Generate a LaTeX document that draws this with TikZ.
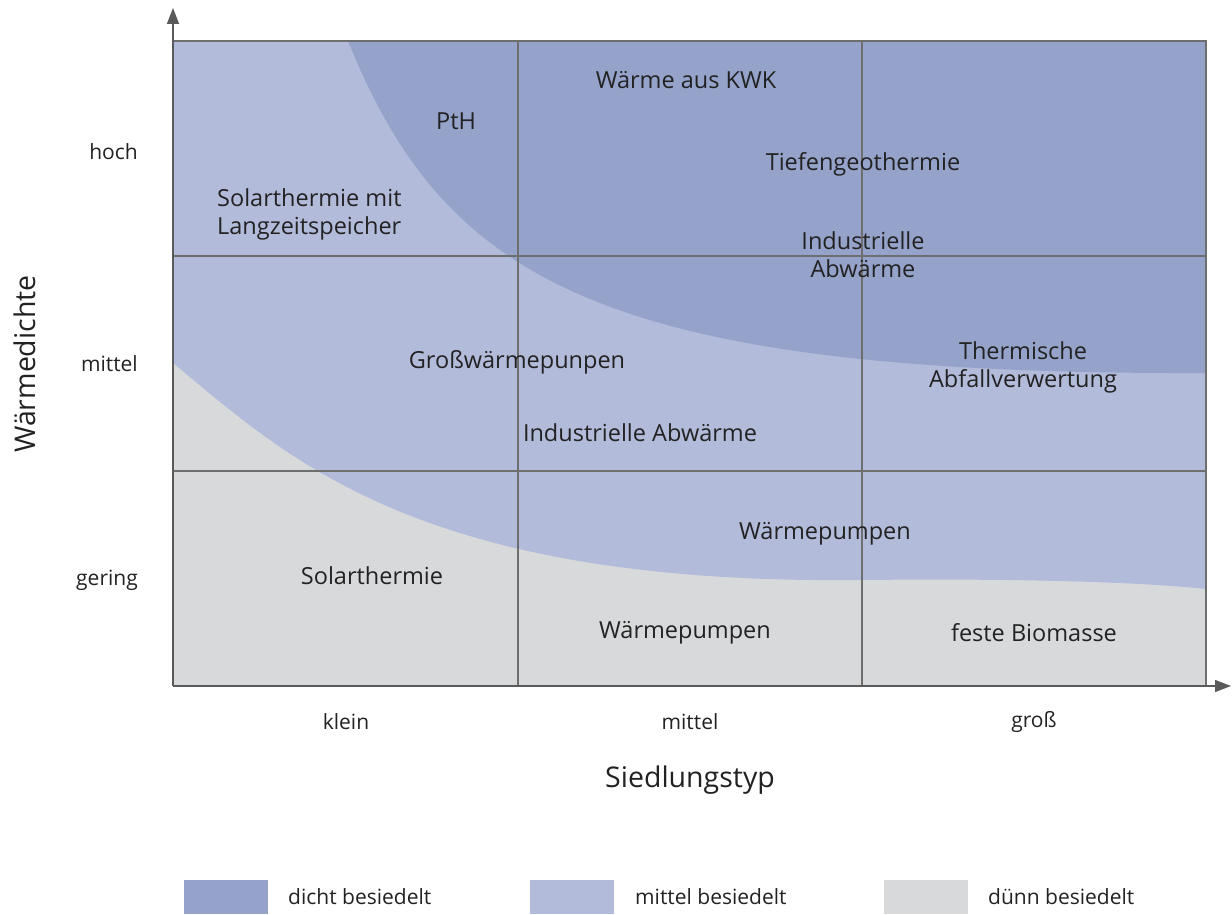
\documentclass[tikz,border=0pt]{standalone}
\usepackage{fontspec}
\setmainfont{Open Sans}
\usetikzlibrary{arrows.meta}
\definecolor{dense}{HTML}{95A3CB}
\definecolor{midd}{HTML}{B3BBDA}
\definecolor{sparse}{HTML}{D8D9DB}
\definecolor{gridc}{HTML}{6E6E6E}
\definecolor{axisc}{HTML}{5A5A5A}
\definecolor{txt}{HTML}{222222}
\begin{document}
\begin{tikzpicture}[x=1pt,y=-1pt,
  lbl/.style={font=\fontsize{23.5}{28}\selectfont, text=txt, align=center, inner sep=0pt},
  tick/.style={font=\fontsize{21}{25}\selectfont, text=txt, inner sep=0pt},
  title/.style={font=\fontsize{28.5}{32}\selectfont, text=txt, inner sep=0pt},
  gridline/.style={draw=gridc, line width=1.3pt},
  axisline/.style={draw=axisc, line width=1.4pt, -{Triangle[length=16pt,width=12pt]}},
  legbox/.style={inner sep=0pt, minimum width=84pt, minimum height=34pt}]
\useasboundingbox (0,0) rectangle (1232,915);
% regions
\fill[sparse] (173,41) rectangle (1206,686);
\fill[midd] (173,41) -- (173,363)
  .. controls (290,460) and (420,585) .. (862,580)
  .. controls (1000,578.5) and (1130,581) .. (1206,589)
  -- (1206,41) -- cycle;
\fill[dense] (348,41) .. controls (445,280) and (600,375) .. (1206,373)
  -- (1206,41) -- cycle;
% grid
\draw[gridline] (173,41) -- (1206,41) -- (1206,686);
\draw[gridline] (518,41) -- (518,686);
\draw[gridline] (862,41) -- (862,686);
\draw[gridline] (173,256) -- (1206,256);
\draw[gridline] (173,471) -- (1206,471);
% axes
\coordinate (O) at (173,686);
\coordinate (ytip) at (173,8);
\coordinate (xtip) at (1231,686);
\draw[axisline] (O) -- (ytip);
\draw[axisline] (O) -- (xtip);
% labels in field
\node[lbl] (pth) at (456,121) {PtH};
\node[lbl, align=left, anchor=west] (solarlz) at (217,214) {Solarthermie mit\\Langzeitspeicher};
\node[lbl] (kwk) at (686,80) {Wärme aus KWK};
\node[lbl] (tiefe) at (863,164) {Tiefengeothermie};
\node[lbl] (indab1) at (863,255) {Industrielle\\Abwärme};
\node[lbl] (gross) at (517,362) {Großwärmepunpen};
\node[lbl] (indab2) at (640,433) {Industrielle Abwärme};
\node[lbl] (therm) at (1023,367) {Thermische\\Abfallverwertung};
\node[lbl] (wp1) at (825,534) {Wärmepumpen};
\node[lbl] (solar) at (372,576) {Solarthermie};
\node[lbl] (wp2) at (685,633) {Wärmepumpen};
\node[lbl] (bio) at (1034,633) {feste Biomasse};
% ticks
\node[tick, anchor=east] (hoch) at (138,152) {hoch};
\node[tick, anchor=east] (ymit) at (138,364) {mittel};
\node[tick, anchor=east] (gering) at (138,580) {gering};
\node[tick] (klein) at (346,722) {klein};
\node[tick] (xmit) at (690,722) {mittel};
\node[tick] (gross2) at (1034,722) {groß};
% titles
\node[title, rotate=90] (ytitle) at (25,364) {Wärmedichte};
\node[title] (xtitle) at (690,780) {Siedlungstyp};
% legend
\node[legbox, fill=dense] (lg1) at (226,897) {};
\node[tick, anchor=west] (lt1) at (288,897) {dicht besiedelt};
\node[legbox, fill=midd] (lg2) at (572,897) {};
\node[tick, anchor=west] (lt2) at (635,897) {mittel besiedelt};
\node[legbox, fill=sparse] (lg3) at (926,897) {};
\node[tick, anchor=west] (lt3) at (988,897) {dünn besiedelt};
\end{tikzpicture}
\end{document}
